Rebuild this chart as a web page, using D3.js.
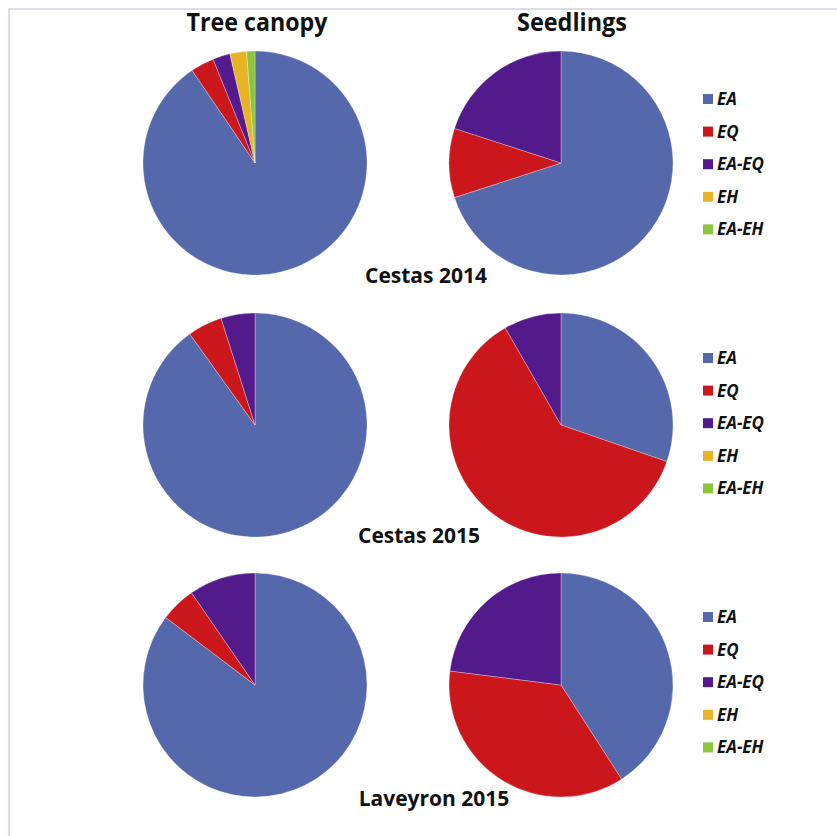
<!DOCTYPE html>
<html>
<head>
<meta charset="utf-8">
<script src="https://cdn.jsdelivr.net/npm/d3@7"></script>
<style>
  body { margin: 0; background: #fff; }
  text { font-family: "Liberation Sans Narrow", "Open Sans", sans-serif; fill: #111; }
</style>
</head>
<body>
<script>
// species groups and their colours (legend order)
const species = ["EA", "EQ", "EA-EQ", "EH", "EA-EH"];
const speciesColors = ["#5468ab", "#cb171c", "#521a8a", "#e8b426", "#8cc63f"];

const columns = ["Tree canopy", "Seedlings"];
const sites = ["Cestas 2014", "Cestas 2015", "Laveyron 2015"];

// share (%) per species, one array per site
const canopy = [
  [90.5, 3.4, 2.5, 2.4, 1.2],
  [90.1, 5.0, 4.9, 0, 0],
  [85.3, 5.1, 9.6, 0, 0]
];
const seedlings = [
  [70.0, 10.0, 20.0, 0, 0],
  [30.3, 61.4, 8.3, 0, 0],
  [40.9, 36.1, 23.0, 0, 0]
];

let width = 837;
let height = 836;
let radius = 112;

// layout
let colX = [255, 561];
let rowY = [163, 425, 685];
let titleX = [257, 572];
let titleLen = [141, 110];
let siteLabelX = [426, 419, 434];
let siteLabelY = [283, 543, 806];
let legendY = [99, 358, 617];

let svg = d3.select("body").append("svg")
  .attr("width", width)
  .attr("height", height);

// light frame on top and left
svg.append("path")
  .attr("d", `M9,${height} V9 H${width}`)
  .attr("fill", "none")
  .attr("stroke", "#dcdcef")
  .attr("stroke-width", 2);

let color = d3.scaleOrdinal().domain(species).range(speciesColors);

let pie = d3.pie().sort(null).value((d) => d.value);
let arc = d3.arc().innerRadius(0).outerRadius(radius);

// column titles
svg.selectAll(".col-title")
  .data(columns)
  .enter()
  .append("text")
  .attr("class", "col-title")
  .attr("x", (d, i) => titleX[i])
  .attr("y", 31)
  .attr("text-anchor", "middle")
  .attr("font-size", 25)
  .attr("font-weight", "bold")
  .attr("textLength", (d, i) => titleLen[i])
  .attr("lengthAdjust", "spacingAndGlyphs")
  .text((d) => d);

[canopy, seedlings].forEach(function(set, c) {
  set.forEach(function(vals, r) {
    let data = vals.map((v, i) => ({ name: species[i], value: v }))
      .filter((d) => d.value > 0);
    let g = svg.append("g")
      .attr("transform", `translate(${colX[c]},${rowY[r]})`);
    g.selectAll("path")
      .data(pie(data))
      .enter()
      .append("path")
      .attr("d", arc)
      .attr("fill", (d) => color(d.data.name))
      .attr("stroke", "rgba(255,255,255,0.5)")
      .attr("stroke-width", 0.6);
  });
});

// site labels
svg.selectAll(".site")
  .data(sites)
  .enter()
  .append("text")
  .attr("class", "site")
  .attr("x", (d, i) => siteLabelX[i])
  .attr("y", (d, i) => siteLabelY[i])
  .attr("text-anchor", "middle")
  .attr("font-size", 21)
  .attr("font-weight", "bold")
  .text((d) => d);

// one legend per row
legendY.forEach(function(y0) {
  let lg = svg.append("g").attr("transform", `translate(703,${y0})`);
  let item = lg.selectAll("g")
    .data(species)
    .enter()
    .append("g")
    .attr("transform", (d, i) => `translate(0,${i * 32.6})`);
  item.append("rect")
    .attr("x", 0)
    .attr("y", -5)
    .attr("width", 10)
    .attr("height", 10)
    .attr("fill", (d) => color(d));
  item.append("text")
    .attr("x", 14)
    .attr("y", 6)
    .attr("font-size", 17)
    .attr("font-weight", "bold")
    .attr("font-style", "italic")
    .text((d) => d);
});
</script>
</body>
</html>
